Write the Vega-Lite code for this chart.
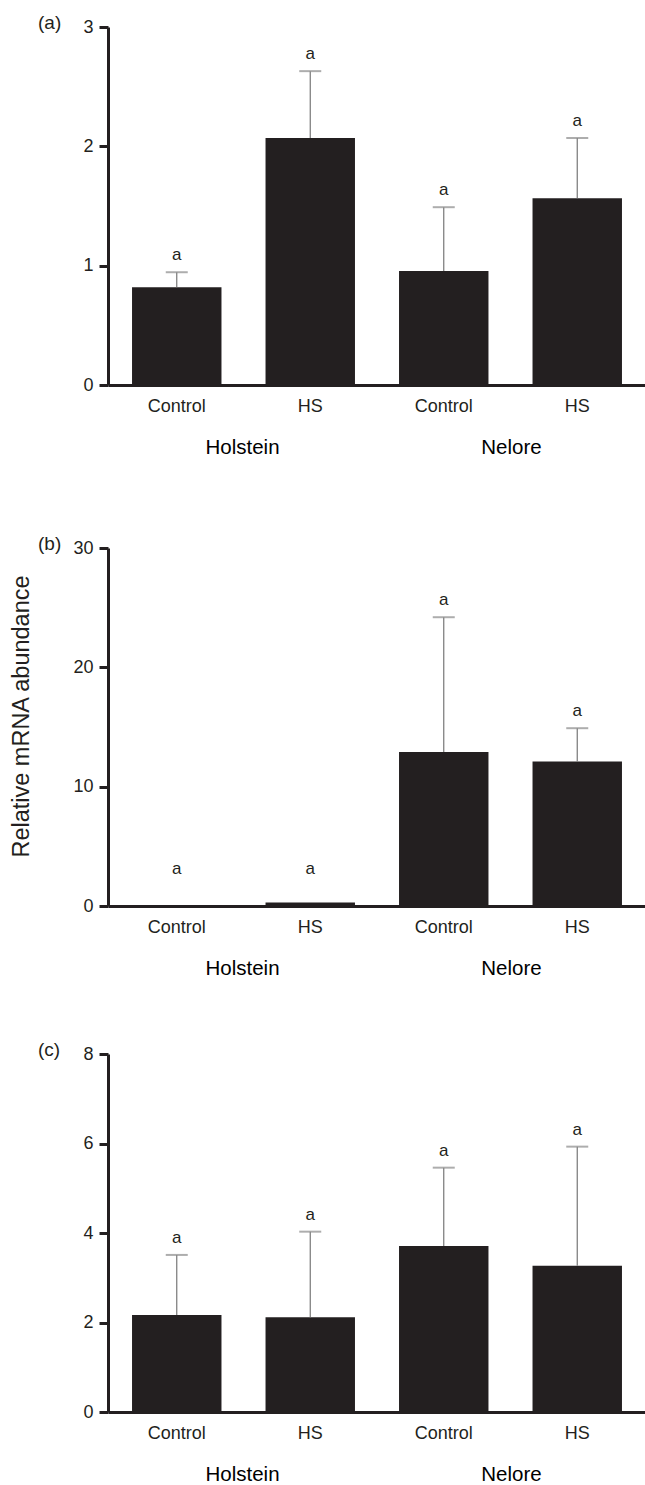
{
  "$schema": "https://vega.github.io/schema/vega-lite/v6.json",
  "padding": {"left": 9, "top": 14, "right": 0, "bottom": 0},
  "background": "white",
  "data": {"values": [
    {"panel": "a", "breed": "Holstein", "group": "Holstein Control", "mean": 0.82, "upper": 0.945, "letter_y": 0.945},
    {"panel": "a", "breed": "Holstein", "group": "Holstein HS", "mean": 2.07, "upper": 2.63, "letter_y": 2.63},
    {"panel": "a", "breed": "Nelore", "group": "Nelore Control", "mean": 0.955, "upper": 1.49, "letter_y": 1.49},
    {"panel": "a", "breed": "Nelore", "group": "Nelore HS", "mean": 1.565, "upper": 2.07, "letter_y": 2.07},
    {"panel": "b", "breed": "Holstein", "group": "Holstein Control", "mean": 0.05, "upper": null, "letter_y": 1.7},
    {"panel": "b", "breed": "Holstein", "group": "Holstein HS", "mean": 0.3, "upper": null, "letter_y": 1.7},
    {"panel": "b", "breed": "Nelore", "group": "Nelore Control", "mean": 12.9, "upper": 24.2, "letter_y": 24.2},
    {"panel": "b", "breed": "Nelore", "group": "Nelore HS", "mean": 12.1, "upper": 14.9, "letter_y": 14.9},
    {"panel": "c", "breed": "Holstein", "group": "Holstein Control", "mean": 2.17, "upper": 3.51, "letter_y": 3.51},
    {"panel": "c", "breed": "Holstein", "group": "Holstein HS", "mean": 2.12, "upper": 4.03, "letter_y": 4.03},
    {"panel": "c", "breed": "Nelore", "group": "Nelore Control", "mean": 3.71, "upper": 5.46, "letter_y": 5.46},
    {"panel": "c", "breed": "Nelore", "group": "Nelore HS", "mean": 3.27, "upper": 5.93, "letter_y": 5.93}
  ]},
  "spacing": 77,
  "vconcat": [
    {
      "width": 538, "height": 358,
      "transform": [{"filter": "datum.panel === 'a'"}],
      "title": {"text": "(a)", "anchor": "start", "frame": "group", "dx": -70, "dy": 29, "offset": 5, "baseline": "middle", "fontSize": 19, "fontWeight": "normal", "color": "#231f20", "font": "Liberation Sans"},
      "layer": [
        {
          "layer": [
            {"mark": {"type": "bar", "color": "#231f20"},
             "encoding": {
               "x": {"field": "group", "type": "nominal", "sort": null, "scale": {"paddingInner": 0.33, "paddingOuter": 0.18},
                     "axis": {"title": null, "ticks": false, "domainWidth": 3, "domainColor": "#231f20", "labelAngle": 0, "labelPadding": 12, "labelFontSize": 18, "labelColor": "#231f20", "labelExpr": "split(datum.label, ' ')[1]"}},
               "y": {"field": "mean", "type": "quantitative", "scale": {"domain": [0, 3], "nice": false},
                     "axis": {"title": null, "values": [0, 1, 2, 3], "format": "d", "grid": false, "domainWidth": 3, "domainColor": "#231f20", "tickWidth": 3, "tickSize": 9, "tickColor": "#231f20", "labelFontSize": 18, "labelPadding": 6, "labelColor": "#231f20"}}
             }},
            {"transform": [{"filter": "isValid(datum.upper)"}],
             "mark": {"type": "rule", "color": "#777777", "strokeWidth": 1.2},
             "encoding": {"x": {"field": "group", "type": "nominal", "sort": null}, "y": {"field": "mean", "type": "quantitative"}, "y2": {"field": "upper"}}},
            {"transform": [{"filter": "isValid(datum.upper)"}],
             "mark": {"type": "tick", "color": "#8a8a8a", "thickness": 2, "size": 22},
             "encoding": {"x": {"field": "group", "type": "nominal", "sort": null}, "y": {"field": "upper", "type": "quantitative"}}},
            {"mark": {"type": "text", "text": "a", "fontSize": 17, "baseline": "alphabetic", "dy": -12, "color": "#231f20"},
             "encoding": {"x": {"field": "group", "type": "nominal", "sort": null}, "y": {"field": "letter_y", "type": "quantitative"}}}
          ]
        },
        {"mark": {"type": "rule", "opacity": 0},
         "encoding": {"x": {"field": "breed", "type": "nominal", "sort": null, "scale": {"paddingInner": 0, "paddingOuter": 0},
                            "axis": {"orient": "bottom", "title": null, "domain": false, "ticks": false, "labelPadding": 52, "labelFontSize": 20.5, "labelAngle": 0, "labelColor": "#000000"}}}}
      ],
      "resolve": {"scale": {"x": "independent"}, "axis": {"x": "independent"}}
    },
    {
      "spacing": 62,
      "vconcat": [
        {
          "width": 538, "height": 358,
          "transform": [{"filter": "datum.panel === 'b'"}],
          "title": {"text": "(b)", "anchor": "start", "frame": "group", "dx": -70, "dy": 29, "offset": 5, "baseline": "middle", "fontSize": 19, "fontWeight": "normal", "color": "#231f20", "font": "Liberation Sans"},
          "layer": [
            {
              "layer": [
                {"mark": {"type": "bar", "color": "#231f20"},
                 "encoding": {
                   "x": {"field": "group", "type": "nominal", "sort": null, "scale": {"paddingInner": 0.33, "paddingOuter": 0.18},
                         "axis": {"title": null, "ticks": false, "domainWidth": 3, "domainColor": "#231f20", "labelAngle": 0, "labelPadding": 12, "labelFontSize": 18, "labelColor": "#231f20", "labelExpr": "split(datum.label, ' ')[1]"}},
                   "y": {"field": "mean", "type": "quantitative", "scale": {"domain": [0, 30], "nice": false},
                         "axis": {"title": "Relative mRNA abundance", "titleFontSize": 23.5, "titleFontWeight": "normal", "titleColor": "#231f20", "titleX": -87, "titleY": 168, "titleAlign": "center", "titleBaseline": "middle", "titleAngle": 270,
                                  "values": [0, 10, 20, 30], "format": "d", "grid": false, "domainWidth": 3, "domainColor": "#231f20", "tickWidth": 3, "tickSize": 9, "tickColor": "#231f20", "labelFontSize": 18, "labelPadding": 6, "labelColor": "#231f20"}}
                 }},
                {"transform": [{"filter": "isValid(datum.upper)"}],
                 "mark": {"type": "rule", "color": "#777777", "strokeWidth": 1.2},
                 "encoding": {"x": {"field": "group", "type": "nominal", "sort": null}, "y": {"field": "mean", "type": "quantitative"}, "y2": {"field": "upper"}}},
                {"transform": [{"filter": "isValid(datum.upper)"}],
                 "mark": {"type": "tick", "color": "#8a8a8a", "thickness": 2, "size": 22},
                 "encoding": {"x": {"field": "group", "type": "nominal", "sort": null}, "y": {"field": "upper", "type": "quantitative"}}},
                {"mark": {"type": "text", "text": "a", "fontSize": 17, "baseline": "alphabetic", "dy": -12, "color": "#231f20"},
                 "encoding": {"x": {"field": "group", "type": "nominal", "sort": null}, "y": {"field": "letter_y", "type": "quantitative"}}}
              ]
            },
            {"mark": {"type": "rule", "opacity": 0},
             "encoding": {"x": {"field": "breed", "type": "nominal", "sort": null, "scale": {"paddingInner": 0, "paddingOuter": 0},
                                "axis": {"orient": "bottom", "title": null, "domain": false, "ticks": false, "labelPadding": 52, "labelFontSize": 20.5, "labelAngle": 0, "labelColor": "#000000"}}}}
          ],
          "resolve": {"scale": {"x": "independent"}, "axis": {"x": "independent"}}
        },
        {
          "width": 538, "height": 358,
          "transform": [{"filter": "datum.panel === 'c'"}],
          "title": {"text": "(c)", "anchor": "start", "frame": "group", "dx": -70, "dy": 29, "offset": 5, "baseline": "middle", "fontSize": 19, "fontWeight": "normal", "color": "#231f20", "font": "Liberation Sans"},
          "layer": [
            {
              "layer": [
                {"mark": {"type": "bar", "color": "#231f20"},
                 "encoding": {
                   "x": {"field": "group", "type": "nominal", "sort": null, "scale": {"paddingInner": 0.33, "paddingOuter": 0.18},
                         "axis": {"title": null, "ticks": false, "domainWidth": 3, "domainColor": "#231f20", "labelAngle": 0, "labelPadding": 12, "labelFontSize": 18, "labelColor": "#231f20", "labelExpr": "split(datum.label, ' ')[1]"}},
                   "y": {"field": "mean", "type": "quantitative", "scale": {"domain": [0, 8], "nice": false},
                         "axis": {"title": null, "values": [0, 2, 4, 6, 8], "format": "d", "grid": false, "domainWidth": 3, "domainColor": "#231f20", "tickWidth": 3, "tickSize": 9, "tickColor": "#231f20", "labelFontSize": 18, "labelPadding": 6, "labelColor": "#231f20"}}
                 }},
                {"transform": [{"filter": "isValid(datum.upper)"}],
                 "mark": {"type": "rule", "color": "#777777", "strokeWidth": 1.2},
                 "encoding": {"x": {"field": "group", "type": "nominal", "sort": null}, "y": {"field": "mean", "type": "quantitative"}, "y2": {"field": "upper"}}},
                {"transform": [{"filter": "isValid(datum.upper)"}],
                 "mark": {"type": "tick", "color": "#8a8a8a", "thickness": 2, "size": 22},
                 "encoding": {"x": {"field": "group", "type": "nominal", "sort": null}, "y": {"field": "upper", "type": "quantitative"}}},
                {"mark": {"type": "text", "text": "a", "fontSize": 17, "baseline": "alphabetic", "dy": -12, "color": "#231f20"},
                 "encoding": {"x": {"field": "group", "type": "nominal", "sort": null}, "y": {"field": "letter_y", "type": "quantitative"}}}
              ]
            },
            {"mark": {"type": "rule", "opacity": 0},
             "encoding": {"x": {"field": "breed", "type": "nominal", "sort": null, "scale": {"paddingInner": 0, "paddingOuter": 0},
                                "axis": {"orient": "bottom", "title": null, "domain": false, "ticks": false, "labelPadding": 52, "labelFontSize": 20.5, "labelAngle": 0, "labelColor": "#000000"}}}}
          ],
          "resolve": {"scale": {"x": "independent"}, "axis": {"x": "independent"}}
        }
      ]
    }
  ],
  "config": {
    "font": "Liberation Sans",
    "view": {"stroke": null},
    "axis": {"labelFont": "Liberation Sans", "titleFont": "Liberation Sans"},
    "text": {"font": "Liberation Sans"}
  }
}
